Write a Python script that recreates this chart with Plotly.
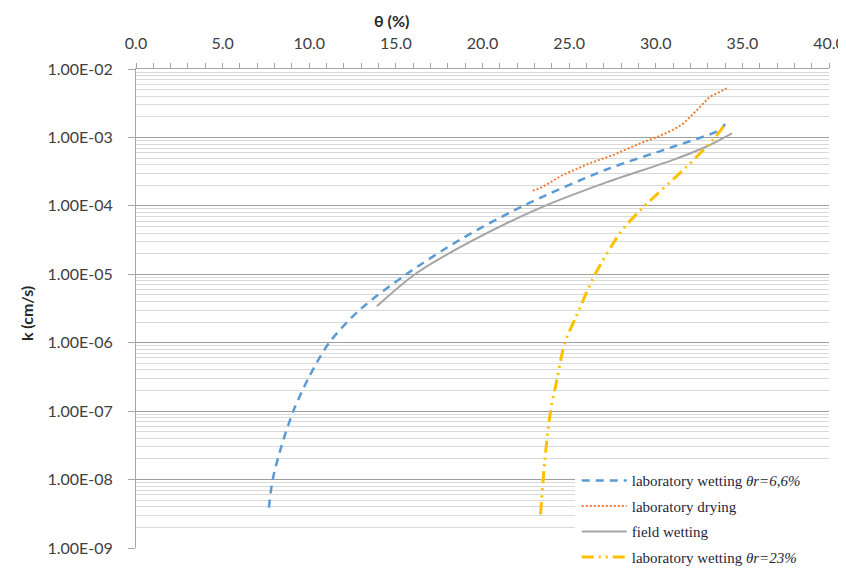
import plotly.graph_objects as go

# ---- data ----
theta_lab_wet66 = [7.67, 7.89, 8.4, 9.08, 10.0, 11.15, 12.9, 15.6, 18.7, 22.35, 27.15, 31.0, 33.7, 34.0]
k_lab_wet66 = [3.9e-9, 1e-8, 3.1e-8, 1e-7, 3.2e-7, 1e-6, 3e-6, 1e-5, 3.2e-5, 1e-4, 3.4e-4, 7.3e-4, 1.29e-3, 1.58e-3]

theta_lab_dry = [22.9, 23.3, 24.65, 26.2, 27.6, 29.1, 30.1, 31.0, 31.6, 32.0, 32.5, 33.1, 33.6, 34.1]
k_lab_dry = [1.67e-4, 1.8e-4, 2.84e-4, 4.2e-4, 5.6e-4, 8.2e-4, 1.02e-3, 1.29e-3, 1.6e-3, 2.0e-3, 2.7e-3, 3.9e-3, 4.5e-3, 5.2e-3]

theta_field_wet = [13.9, 16.1, 19.3, 23.4, 27.15, 31.0, 32.9, 34.4]
k_field_wet = [3.4e-6, 1e-5, 3.0e-5, 9.5e-5, 2.2e-4, 4.7e-4, 7.3e-4, 1.15e-3]

theta_lab_wet23 = [23.35, 23.6, 23.93, 24.3, 24.75, 25.4, 26.5, 28.0, 29.2, 31.77, 33.3, 34.05]
k_lab_wet23 = [3.1e-9, 1.96e-8, 1e-7, 2.9e-7, 1e-6, 2.4e-6, 1e-5, 4.2e-5, 9.1e-5, 3.7e-4, 9.2e-4, 1.6e-3]

x_tick_vals = [0, 5, 10, 15, 20, 25, 30, 35, 40]
x_tick_text = ["0.0", "5.0", "10.0", "15.0", "20.0", "25.0", "30.0", "35.0", "40.0"]
y_tick_vals = [1e-9, 1e-8, 1e-7, 1e-6, 1e-5, 1e-4, 1e-3, 1e-2]
y_tick_text = ["1.00E-09", "1.00E-08", "1.00E-07", "1.00E-06", "1.00E-05", "1.00E-04", "1.00E-03", "1.00E-02"]

names = [
    "laboratory wetting <i>θr=6,6%</i>",
    "laboratory drying",
    "field wetting",
    "laboratory wetting <i>θr=23%</i>",
]

minor_vals = [m * 10.0 ** e for e in range(-9, -2) for m in range(2, 10)]

fig = go.Figure()
fig.add_trace(go.Scatter(x=theta_lab_wet66, y=k_lab_wet66, mode="lines", name=names[0],
                         legendgroup="a", line=dict(color="#5B9BD5", width=2.5, dash="8px,6px", shape="spline", smoothing=0.8)))
fig.add_trace(go.Scatter(x=theta_lab_dry, y=k_lab_dry, mode="lines", name=names[1],
                         legendgroup="b", line=dict(color="#ED7D31", width=2, dash="2px,2px")))
fig.add_trace(go.Scatter(x=theta_field_wet, y=k_field_wet, mode="lines", name=names[2],
                         legendgroup="c", line=dict(color="#A5A5A5", width=2, shape="spline", smoothing=0.8)))
fig.add_trace(go.Scatter(x=theta_lab_wet23, y=k_lab_wet23, mode="lines", name=names[3],
                         legendgroup="d", line=dict(color="#FFC000", width=3, dash="12px,5px,2px,5px,2px,5px", shape="spline", smoothing=0.8)))

fig.update_layout(
    width=838, height=562,
    margin=dict(l=128, r=17, t=61, b=22, autoexpand=False),
    plot_bgcolor="white", paper_bgcolor="white",
    font=dict(family="Lato", size=15, color="#404040"),
    legend=dict(x=0.636, y=0.175, xanchor="left", yanchor="top", bgcolor="white",
                font=dict(family="Liberation Serif", size=15, color="#1F1F3A"),
                tracegroupgap=3, itemwidth=45),
    showlegend=True,
)
# white legend background box (covers gridlines to the right edge, as in the reference)
fig.add_shape(type="rect", xref="paper", yref="paper", x0=0.6335, x1=1.03, y0=-0.06, y1=0.1775,
              fillcolor="white", line=dict(width=0), layer="above")
fig.update_xaxes(
    side="top", range=[0, 40], tickmode="array", tickvals=x_tick_vals, ticktext=x_tick_text,
    ticks="outside", ticklen=5, tickcolor="#A6A6A6", ticklabelstandoff=8,
    showgrid=False, zeroline=False, automargin=False,
    showline=True, linecolor="#A6A6A6", linewidth=1,
    minor=dict(dtick=1, ticks="outside", ticklen=5, tickcolor="#A6A6A6"),
    tickfont=dict(size=16),
)
fig.update_yaxes(
    type="log", range=[-9, -2], tickmode="array", tickvals=y_tick_vals, ticktext=y_tick_text,
    ticks="outside", ticklen=7, tickcolor="#A6A6A6", ticklabelstandoff=12,
    showgrid=True, gridcolor="#9E9E9E", gridwidth=1, zeroline=False, automargin=False,
    showline=True, linecolor="#A6A6A6", linewidth=1,
    minor=dict(tickmode="array", tickvals=minor_vals, showgrid=True, gridcolor="#D9D9D9", gridwidth=1),
    tickfont=dict(size=16),
)
fig.add_annotation(text="<b>θ (%)</b>", xref="paper", yref="paper", x=0.369, y=1.102,
                   xanchor="center", yanchor="middle",
                   showarrow=False, font=dict(family="Lato", size=16, color="#262626"))
fig.add_annotation(text="<b>k (cm/s)</b>", xref="paper", yref="paper", x=-0.159, y=0.49,
                   xanchor="center", yanchor="middle",
                   textangle=-90, showarrow=False, font=dict(family="Lato", size=16, color="#262626"))

fig.write_html("out.html")
